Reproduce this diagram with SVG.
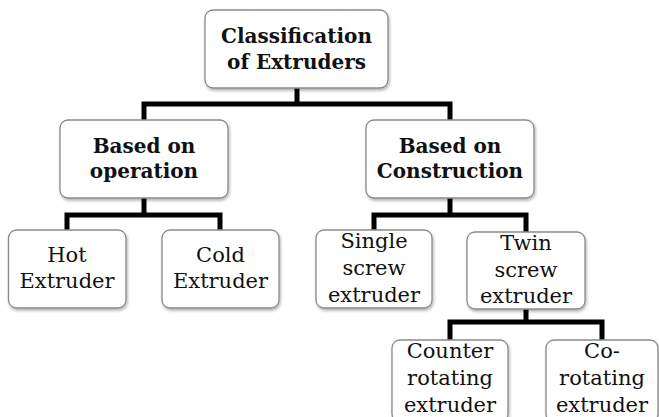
<svg xmlns="http://www.w3.org/2000/svg" width="659" height="417" viewBox="0 0 659 417">
  <style>
    .box { fill: #ffffff; stroke: #8a8a8a; stroke-width: 1.3; filter: url(#shadow); }
    .link { fill: none; stroke: #000000; stroke-width: 5; stroke-linejoin: miter; stroke-linecap: butt; }
    .bold { font-family: "DejaVu Serif", "Liberation Serif", serif; font-weight: bold; font-size: 20px; fill: #111111; text-anchor: middle; }
    .reg { font-family: "DejaVu Serif", "Liberation Serif", serif; font-size: 21px; fill: #111111; text-anchor: middle; }
  </style>
  <defs>
    <filter id="shadow" x="-10%" y="-10%" width="125%" height="130%">
      <feDropShadow dx="1" dy="2" stdDeviation="1.5" flood-color="#000000" flood-opacity="0.3"/>
    </filter>
  </defs>
  <rect width="659" height="417" fill="#ffffff"/>

  <!-- tree connectors -->
  <g id="connectors">
    <path class="link" d="M297,88 V104"/>
    <path class="link" d="M144,120 V104 H450 V120"/>
    <path class="link" d="M144,198 V215"/>
    <path class="link" d="M67,230 V215 H220 V230"/>
    <path class="link" d="M450,198 V215"/>
    <path class="link" d="M374,230 V215 H526 V232"/>
    <path class="link" d="M526,309 V322"/>
    <path class="link" d="M450,340 V322 H602 V340"/>
  </g>

  <g id="root">
    <rect class="box" x="205" y="10" width="183" height="78" rx="8"/>
    <text class="bold" x="296.5" y="43">Classification</text>
    <text class="bold" x="296.5" y="69">of Extruders</text>
  </g>

  <g id="operation">
    <rect class="box" x="60" y="120" width="168" height="78" rx="8"/>
    <text class="bold" x="144" y="153">Based on</text>
    <text class="bold" x="144" y="178">operation</text>
  </g>

  <g id="construction">
    <rect class="box" x="366" y="120" width="168" height="78" rx="8"/>
    <text class="bold" x="450" y="153">Based on</text>
    <text class="bold" x="450" y="178">Construction</text>
  </g>

  <g id="hot">
    <rect class="box" x="8.5" y="230" width="117.5" height="78" rx="8"/>
    <text class="reg" x="67" y="262">Hot</text>
    <text class="reg" x="67" y="288">Extruder</text>
  </g>

  <g id="cold">
    <rect class="box" x="162" y="230" width="117" height="78" rx="8"/>
    <text class="reg" x="220.5" y="262">Cold</text>
    <text class="reg" x="220.5" y="288">Extruder</text>
  </g>

  <g id="single">
    <rect class="box" x="316" y="230" width="116" height="78" rx="8"/>
    <text class="reg" x="374" y="248">Single</text>
    <text class="reg" x="374" y="275">screw</text>
    <text class="reg" x="374" y="302">extruder</text>
  </g>

  <g id="twin">
    <rect class="box" x="467" y="232" width="118" height="77" rx="8"/>
    <text class="reg" x="526" y="250">Twin</text>
    <text class="reg" x="526" y="277">screw</text>
    <text class="reg" x="526" y="303">extruder</text>
  </g>

  <g id="counter">
    <rect class="box" x="392" y="340" width="116" height="82" rx="8"/>
    <text class="reg" x="450" y="358">Counter</text>
    <text class="reg" x="450" y="385">rotating</text>
    <text class="reg" x="450" y="412">extruder</text>
  </g>

  <g id="co">
    <rect class="box" x="546" y="340" width="112" height="82" rx="8"/>
    <text class="reg" x="602" y="358">Co-</text>
    <text class="reg" x="602" y="385">rotating</text>
    <text class="reg" x="602" y="412">extruder</text>
  </g>
</svg>
